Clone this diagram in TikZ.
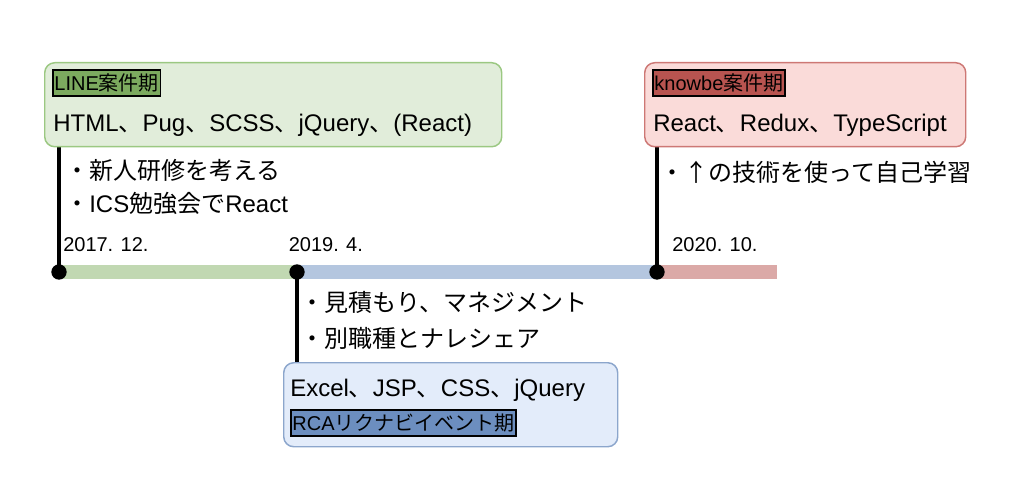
\documentclass[tikz,border=0pt]{standalone}
\usepackage{fontspec}
\usepackage{xcolor}
\usepackage{tikz}
\setmainfont{Liberation Sans}
\newfontfamily\jp{Noto Sans CJK JP}
\newcommand{\ja}[1]{{\jp #1}}
\definecolor{greenFill}{RGB}{225,237,218}
\definecolor{greenLine}{RGB}{155,200,130}
\definecolor{greenTag}{RGB}{124,170,95}
\definecolor{greenBar}{RGB}{193,216,178}
\definecolor{blueFill}{RGB}{227,236,250}
\definecolor{blueLine}{RGB}{140,166,204}
\definecolor{blueTag}{RGB}{108,142,191}
\definecolor{blueBar}{RGB}{180,198,223}
\definecolor{redFill}{RGB}{250,219,217}
\definecolor{redLine}{RGB}{205,120,117}
\definecolor{redTag}{RGB}{184,84,80}
\definecolor{redBar}{RGB}{219,169,167}
\pgfdeclarelayer{bg}
\pgfsetlayers{bg,main}

\begin{document}
\begin{tikzpicture}[x=0.75pt,y=-0.75pt,
	period/.style={rounded corners=7.5pt,line width=1.1pt,minimum height=63pt,anchor=north west,inner sep=0pt},
	tag/.style={draw=black,line width=1.3pt,anchor=west,inner xsep=1.2pt,inner ysep=0pt,minimum height=20pt,font=\fontsize{15}{18}\selectfont},
	tech/.style={anchor=base west,inner sep=0pt,font=\fontsize{18}{21}\selectfont},
	memo/.style={anchor=base west,inner sep=0pt,font=\fontsize{18}{21}\selectfont},
	date/.style={anchor=base west,inner sep=0pt,font=\fontsize{15}{18}\selectfont},
	dot/.style={circle,fill=black,inner sep=0pt,minimum size=11.5pt},
	bar/.style={line width=11pt},
	stem/.style={line width=3pt,black}]
	\useasboundingbox (0,0) rectangle (1019,502);
	\node[period,fill=greenFill,draw=greenLine,minimum width=342.75pt] (linebox) at (44,62) {};
	\node[tag,fill=greenTag] (linetag) at (52,83) {LINE\ja{案件期}};
	\node[tech] (linetech) at (53,131.5) {HTML\ja{、}Pug\ja{、}SCSS\ja{、}jQuery\ja{、}(React)};
	\node[memo] (linememo1) at (65,180) {\ja{・新人研修を考える}};
	\node[memo] (linememo2) at (65,212.5) {\ja{・}ICS\ja{勉強会で}React};
	\node[date] (linedate) at (63,251) {2017. 12.};
	\node[period,fill=blueFill,draw=blueLine,minimum width=250.5pt] (rcabox) at (283,362) {};
	\node[tech] (rcatech) at (290,396.5) {Excel\ja{、}JSP\ja{、}CSS\ja{、}jQuery};
	\node[tag,fill=blueTag] (rcatag) at (290,423) {RCA\ja{リクナビイベント期}};
	\node[memo] (rcamemo1) at (300,311) {\ja{・見積もり、マネジメント}};
	\node[memo] (rcamemo2) at (300,347.5) {\ja{・別職種とナレシェア}};
	\node[date] (rcadate) at (288.5,251) {2019. 4.};
	\node[period,fill=redFill,draw=redLine,minimum width=240.75pt] (kbbox) at (644,62) {};
	\node[tag,fill=redTag] (kbtag) at (652,83) {knowbe\ja{案件期}};
	\node[tech] (kbtech) at (653,131.5) {React\ja{、}Redux\ja{、}TypeScript};
	\node[memo] (kbmemo) at (660,181.5) {\ja{・↑の技術を使って自己学習}};
	\node[date] (kbdate) at (672,251) {2020. 10.};
	\node[dot] (d1) at (59,272) {};
	\node[dot] (d2) at (297,272) {};
	\node[dot] (d3) at (657,272) {};
	\coordinate (barend) at (777,272);
	\begin{pgfonlayer}{bg}
		\draw[bar,greenBar] (d1.center) -- (d2.center);
		\draw[bar,blueBar] (d2.center) -- (d3.center);
		\draw[bar,redBar] (d3.center) -- (barend);
		\draw[stem] (d1.center) -- (d1 |- linebox.south);
		\draw[stem] (d2.center) -- (d2 |- rcabox.north);
		\draw[stem] (d3.center) -- (d3 |- kbbox.south);
	\end{pgfonlayer}
\end{tikzpicture}
\end{document}
